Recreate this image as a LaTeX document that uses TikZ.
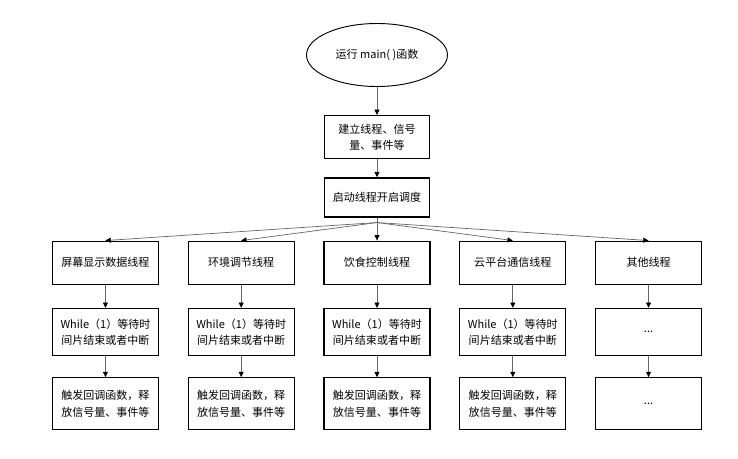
\documentclass[tikz,border=0pt]{standalone}
\usepackage{fontspec}
\setmainfont{Noto Sans CJK SC}
\usetikzlibrary{arrows.meta, positioning, shapes.geometric}

\begin{document}
\begin{tikzpicture}[
    stepbox/.style={rectangle, draw=black, line width=1.1pt, fill=white,
                    minimum width=3.15cm, minimum height=1.29cm,
                    inner sep=2pt, align=center},
    thread/.style={stepbox, minimum width=3.18cm},
    waitbox/.style={thread, minimum height=1.41cm},
    callbox/.style={thread, minimum height=1.56cm},
    link/.style={-{Triangle[length=1.6mm, width=1.5mm, color=black]},
                 draw=black!60, line width=0.6pt},
    every node/.style={font=\fontsize{9.4}{14}\selectfont},
]

% Start and setup
\node[ellipse, draw=black, line width=0.8pt,
      minimum width=4.23cm, minimum height=1.89cm] (run) {运行 main( )函数};
\node[stepbox, below=0.84cm of run]    (create) {建立线程、信号\\量、事件等};
\node[stepbox, minimum height=1.17cm,
      below=0.54cm of create]          (sched)  {启动线程开启调度};

% Threads
\node[thread, below=0.69cm of sched]   (diet)   {饮食控制线程};
\node[thread, left=0.855cm of diet]    (env)    {环境调节线程};
\node[thread, left=0.855cm of env]     (screen) {屏幕显示数据线程};
\node[thread, right=0.855cm of diet]   (cloud)  {云平台通信线程};
\node[thread, right=0.855cm of cloud]  (other)  {其他线程};

\coordinate[below=0.15cm of sched.south] (fork);

\draw[link] (run)    -- (create);
\draw[link] (create) -- (sched);
\draw[link] (sched)  -- (diet);
\foreach \t in {screen, env, cloud, other}
    \draw[link] (fork) -- (\t.north);

% Wait and callback boxes
\foreach \t in {screen, env, diet, cloud} {
    \node[waitbox, below=0.69cm of \t]      (\t-wait) {While（1）等待时\\间片结束或者中断};
    \node[callbox, below=0.63cm of \t-wait] (\t-call) {触发回调函数，释\\放信号量、事件等};
    \draw[link] (\t)      -- (\t-wait);
    \draw[link] (\t-wait) -- (\t-call);
}
\node[waitbox, below=0.69cm of other]       (other-wait) {...};
\node[callbox, below=0.63cm of other-wait]  (other-call) {...};
\draw[link] (other)      -- (other-wait);
\draw[link] (other-wait) -- (other-call);

\useasboundingbox (-11.31,1.65) rectangle (10.83,-12.09);
\end{tikzpicture}
\end{document}
